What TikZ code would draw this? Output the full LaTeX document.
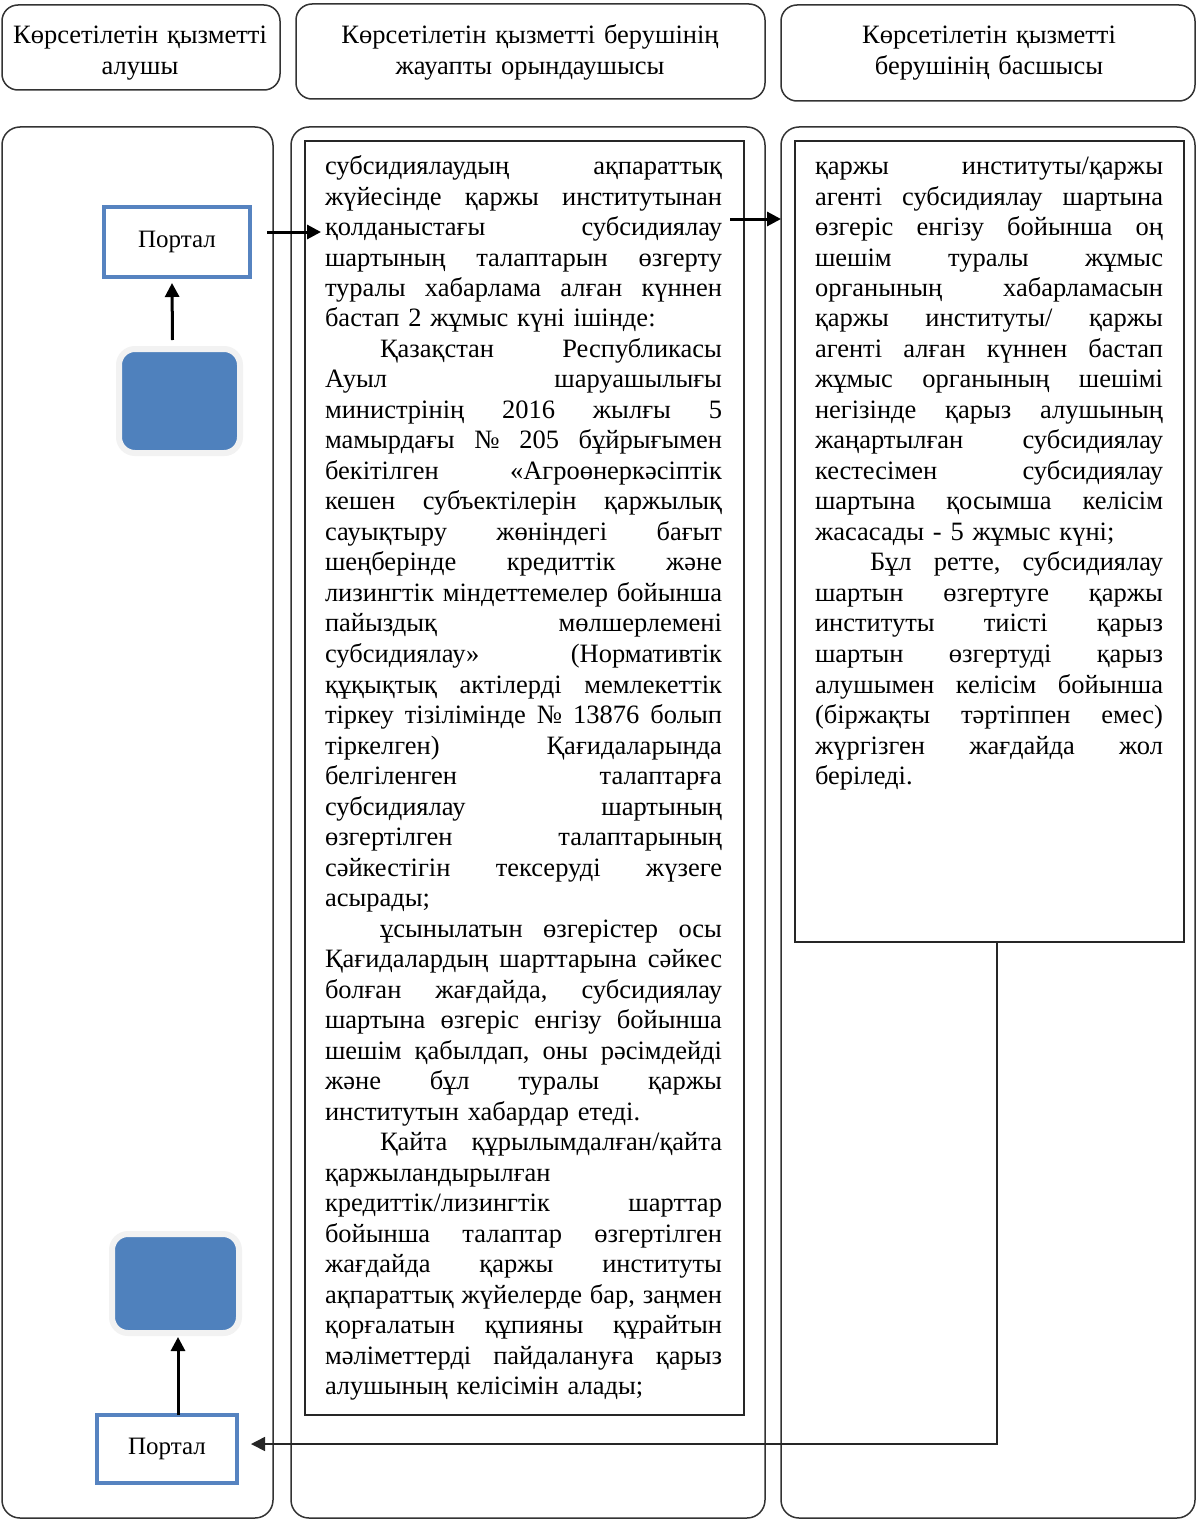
\documentclass[tikz,border=0pt]{standalone}
\usepackage{fontspec}
\setmainfont{Liberation Serif}
\usetikzlibrary{arrows.meta,shadows}
\definecolor{accblue}{RGB}{79,129,189}
\definecolor{portblue}{RGB}{86,131,192}
\newlength\jlw
\newcommand\JL[1]{\makebox[\jlw][s]{\frenchspacing\spaceskip=.25em plus 1fil\relax #1}\\}
\newcommand\PI{\hspace*{27.5pt}}
\begin{document}
\begin{tikzpicture}[x=0.5pt,y=-0.5pt,
  every node/.style={outer sep=0pt},
  lane/.style={draw=black!80, line width=0.75pt, rounded corners=9pt, inner sep=0pt},
  hdr/.style={draw=black!80, line width=0.75pt, rounded corners=8pt, inner sep=0pt},
  hdrtext/.style={font=\fontsize{13.25}{15.5}\selectfont, inner sep=0pt, align=center, anchor=base},
  frame/.style={draw=black!85, line width=0.75pt, inner sep=0pt},
  bodytext/.style={font=\fontsize{13.25}{15.25}\selectfont, inner sep=0pt, anchor=base west, align=left},
  portal/.style={draw=portblue, line width=2pt, fill=white, inner sep=0pt, font=\fontsize{12.5}{14}\selectfont},
  bsq/.style={fill=accblue, draw=white!90!gray, line width=3pt, rounded corners=8pt, inner sep=0pt,
    drop shadow={shadow xshift=0.6pt, shadow yshift=-1.2pt, fill=gray!60, opacity=0.5}},
  arr/.style={line width=1.5pt, -{Triangle[length=7pt,width=7pt]}},
  conn/.style={line width=0.8pt, black!85, -{Triangle[length=7pt,width=7pt]}}
]
\useasboundingbox[fill=white] (0,0) rectangle (1196,1520);

% headers
\node[hdr, minimum width=139pt, minimum height=42.5pt] (h1) at (141,47.5) {};
\node[hdr, minimum width=234.5pt, minimum height=47.5pt] (h2) at (530.5,51.5) {};
\node[hdr, minimum width=207pt, minimum height=48pt] (h3) at (988,53) {};
\node[hdrtext, text width=135pt] (h1t) at (140,44) {Көрсетілетін қызметті\\алушы};
\node[hdrtext, text width=230pt] (h2t) at (530,44) {Көрсетілетін қызметті берушінің\\жауапты орындаушысы};
\node[hdrtext, text width=200pt] (h3t) at (989,44) {Көрсетілетін қызметті\\берушінің басшысы};

% lanes
\node[lane, minimum width=135.5pt, minimum height=695.5pt] (lane1) at (137.5,822.5) {};
\node[lane, minimum width=237pt, minimum height=695.5pt] (lane2) at (528,822.5) {};
\node[lane, minimum width=207pt, minimum height=695.5pt] (lane3) at (988,822.5) {};

% text frames
\node[frame, minimum width=219.5pt, minimum height=637pt] (box2) at (524.5,778) {};
\node[frame, minimum width=194.5pt, minimum height=400.5pt] (box3) at (989.5,541.5) {};

\node[bodytext, text width=198.5pt] (t2) at (325,174.5) {\global\jlw=198.5pt\relax
\JL{субсидиялаудың ақпараттық}
\JL{жүйесінде қаржы институтынан}
\JL{қолданыстағы субсидиялау}
\JL{шартының талаптарын өзгерту}
\JL{туралы хабарлама алған күннен}
бастап 2 жұмыс күні ішінде:\\
\JL{\PI Қазақстан Республикасы}
\JL{Ауыл шаруашылығы}
\JL{министрінің 2016 жылғы 5}
\JL{мамырдағы № 205 бұйрығымен}
\JL{бекітілген «Агроөнеркәсіптік}
\JL{кешен субъектілерін қаржылық}
\JL{сауықтыру жөніндегі бағыт}
\JL{шеңберінде кредиттік және}
\JL{лизингтік міндеттемелер бойынша}
\JL{пайыздық мөлшерлемені}
\JL{субсидиялау» (Нормативтік}
\JL{құқықтық актілерді мемлекеттік}
\JL{тіркеу тізілімінде № 13876 болып}
\JL{тіркелген) Қағидаларында}
\JL{белгіленген талаптарға}
\JL{субсидиялау шартының}
\JL{өзгертілген талаптарының}
\JL{сәйкестігін тексеруді жүзеге}
асырады;\\
\JL{\PI ұсынылатын өзгерістер осы}
\JL{Қағидалардың шарттарына сәйкес}
\JL{болған жағдайда, субсидиялау}
\JL{шартына өзгеріс енгізу бойынша}
\JL{шешім қабылдап, оны рәсімдейді}
\JL{және бұл туралы қаржы}
институтын хабардар етеді.\\
\JL{\PI Қайта құрылымдалған/қайта}
қаржыландырылған\\
\JL{кредиттік/лизингтік шарттар}
\JL{бойынша талаптар өзгертілген}
\JL{жағдайда қаржы институты}
\JL{ақпараттық жүйелерде бар, заңмен}
\JL{қорғалатын құпияны құрайтын}
\JL{мәліметтерді пайдалануға қарыз}
алушының келісімін алады;};

\node[bodytext, text width=174pt] (t3) at (815,174.5) {\global\jlw=174pt\relax
\JL{қаржы институты/қаржы}
\JL{агенті субсидиялау шартына}
\JL{өзгеріс енгізу бойынша оң}
\JL{шешім туралы жұмыс}
\JL{органының хабарламасын}
\JL{қаржы институты/ қаржы}
\JL{агенті алған күннен бастап}
\JL{жұмыс органының шешімі}
\JL{негізінде қарыз алушының}
\JL{жаңартылған субсидиялау}
\JL{кестесімен субсидиялау}
\JL{шартына қосымша келісім}
жасасады - 5 жұмыс күні;\\
\JL{\PI Бұл ретте, субсидиялау}
\JL{шартын өзгертуге қаржы}
\JL{институты тиісті қарыз}
\JL{шартын өзгертуді қарыз}
\JL{алушымен келісім бойынша}
\JL{(біржақты тәртіппен емес)}
\JL{жүргізген жағдайда жол}
беріледі.};

% left lane elements
\node[portal, minimum width=73pt, minimum height=35pt] (portal1) at (177,242) {Портал};
\node[bsq, minimum width=60.5pt, minimum height=52pt] (sq1) at (179.5,401) {};
\node[bsq, minimum width=63.5pt, minimum height=49.5pt] (sq2) at (175.5,1283.5) {};
\node[portal, minimum width=70pt, minimum height=34pt] (portal2) at (167,1449) {Портал};

% connectors
\draw[arr] ([xshift=-3.5pt,yshift=4.5pt]sq1.north) -- ([xshift=-2.5pt,yshift=-3pt]portal1.south);
\coordinate (c1) at (267,232);
\coordinate (c2) at (321,232);
\draw[arr] (c1) -- (c2);
\coordinate (c3) at (730,219);
\draw[arr] (c3) -- (c3 -| lane3.west);
\coordinate (p2top) at ([xshift=5.5pt]portal2.north);
\draw[arr] (p2top) -- ([yshift=-2pt]p2top |- sq2.south);
\coordinate (b3) at ([xshift=3.75pt]box3.south);
\coordinate (p2r) at ([xshift=7pt,yshift=2.5pt]portal2.east);
\draw[conn] (b3) |- (p2r);
\end{tikzpicture}
\end{document}
